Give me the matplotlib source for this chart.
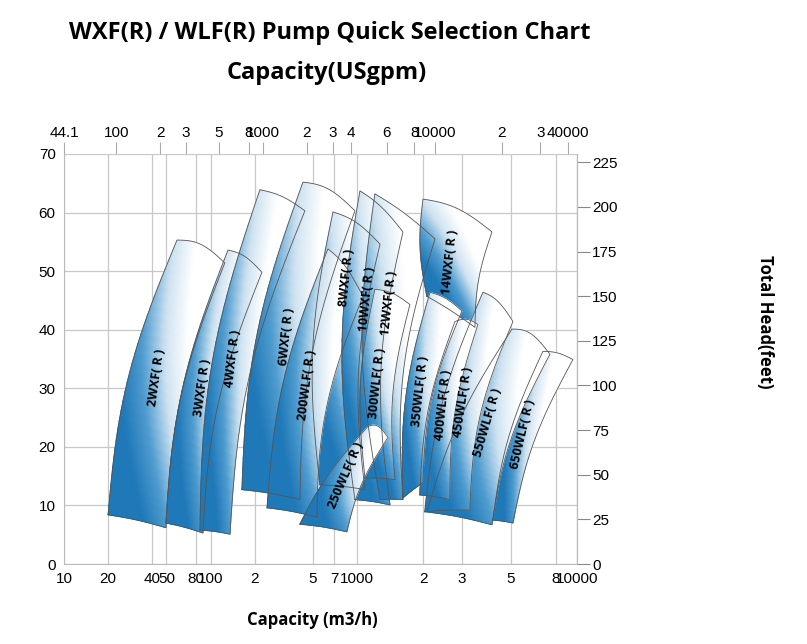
import numpy as np
import matplotlib
matplotlib.use("Agg")
import matplotlib.pyplot as plt
from matplotlib.colors import LinearSegmentedColormap
from matplotlib.ticker import FixedLocator, FixedFormatter, NullLocator

# pump regions: corners (x m3/h, y m) in order BL, BR, TR, TL
pumps = ["2WXF(R)", "3WXF(R)", "4WXF(R)", "6WXF(R)", "8WXF(R)", "200WLF(R)",
         "10WXF(R)", "12WXF(R)", "300WLF(R)", "14WXF(R)", "650WLF(R)", "550WLF(R)",
         "450WLF(R)", "400WLF(R)", "350WLF(R)", "250WLF(R)"]
corner_x = [
    [20, 49.6, 125, 59],
    [49.6, 88.7, 224, 131.5],
    [84.7, 135.6, 440, 217],
    [163.7, 407, 966, 427],
    [557, 1085, 1271, 684],
    [243, 532, 1063, 632],
    [966, 1410, 1616, 1030],
    [1271, 1616, 2260, 1204],
    [1085, 1486, 1738, 1204],
    [2077, 3436, 4105, 1993],
    [4143, 5113, 9580, 6994],
    [2077, 4105, 7530, 5058],
    [2032, 3258, 5113, 3733],
    [1928, 2642, 3542, 2785],
    [1616, 1993, 2997, 2145],
    [407, 851, 1380, 1120],
]
corner_y = [
    [8.4, 6.2, 51.4, 55.3],
    [7.0, 5.3, 49.8, 53.6],
    [5.8, 5.1, 60.3, 63.9],
    [12.7, 11.0, 60.3, 65.2],
    [13.5, 12.7, 54.6, 60.1],
    [9.6, 8.0, 45.7, 53.8],
    [11.0, 10.1, 56.7, 63.7],
    [11.0, 11.0, 55.5, 63.2],
    [14.7, 14.4, 44.3, 46.9],
    [45.7, 40.4, 56.7, 62.3],
    [7.5, 7.0, 34.9, 36.3],
    [8.9, 6.7, 35.8, 40.1],
    [8.9, 9.2, 41.4, 46.4],
    [11.8, 11.0, 40.9, 41.4],
    [11.3, 13.9, 43.2, 46.4],
    [6.8, 5.5, 21.6, 23.5],
]
label_v = {"8WXF(R)": 0.82, "10WXF(R)": 0.72, "12WXF(R)": 0.72, "14WXF(R)": 0.5}

bottom_ticks = [10, 20, 40, 50, 80, 100, 200, 500, 700, 1000, 2000, 3000, 5000, 8000, 10000]
bottom_labels = ["10", "20", "40", "50", "80", "100", "2", "5", "7", "1000", "2", "3", "5", "8", "10000"]
top_ticks = [44.1, 100, 200, 300, 500, 800, 1000, 2000, 3000, 4000, 6000, 8000, 10000, 20000, 30000, 40000]
top_labels = ["44.1", "100", "2", "3", "5", "8", "1000", "2", "3", "4", "6", "8", "10000", "2", "3", "40000"]
ft_ticks = [0, 25, 50, 75, 100, 125, 150, 175, 200, 225]

GPM = 4.403
FT = 3.2808


# the chart stretches the last decade
def fwd(x):
    l = np.log10(np.clip(x, 1e-9, None))
    return np.where(l <= 3, l, 3 + (l - 3) * 1.5)


def inv(v):
    return np.where(v <= 3, 10 ** v, 10 ** (3 + (v - 3) / 1.5))


def fwd_g(g):
    return fwd(np.asarray(g) / GPM)


def inv_g(v):
    return inv(v) * GPM


plt.rcParams['font.family'] = ['Liberation Sans', 'DejaVu Sans']
fig = plt.figure(figsize=(8.07, 6.44), dpi=100)
ax = fig.add_axes([64 / 807, 1 - 564 / 644, (577 - 64) / 807, (564 - 154) / 644])
ax.set_xscale('function', functions=(fwd, inv))
ax.set_xlim(10, 10000)
ax.set_ylim(0, 70)

ax.xaxis.set_major_locator(FixedLocator(bottom_ticks))
ax.xaxis.set_major_formatter(FixedFormatter(bottom_labels))
ax.xaxis.set_minor_locator(NullLocator())
ax.set_yticks(range(0, 71, 10))
ax.tick_params(axis='x', length=0, labelsize=11, pad=6)
ax.tick_params(axis='y', length=0, labelsize=11, pad=6)
ax.grid(True, color='#c8c8c8', linewidth=0.9)
for s in ax.spines.values():
    s.set_color('#bbbbbb')
ax.spines['top'].set_visible(False)
ax.set_axisbelow(True)

top = ax.twiny()
top.set_xscale('function', functions=(fwd_g, inv_g))
top.set_xlim(10 * GPM, 10000 * GPM)
top.xaxis.set_major_locator(FixedLocator(top_ticks))
top.xaxis.set_major_formatter(FixedFormatter(top_labels))
top.xaxis.set_minor_locator(NullLocator())
top.tick_params(length=9, color='#aaaaaa', labelsize=11, pad=1)
for s in top.spines.values():
    s.set_visible(False)

right = ax.secondary_yaxis('right', functions=(lambda m: m * FT, lambda f: f / FT))
right.set_yticks(ft_ticks)
right.tick_params(length=9, color='#888888', labelsize=11, pad=2)
right.spines['right'].set_color('#bbbbbb')

cmap = LinearSegmentedColormap.from_list('pump', ['#ffffff', '#cfe3f1', '#4f9ccf', '#1f78b8'])
fig.canvas.draw()
to_px = ax.transData
to_data = ax.transData.inverted()

n = 30
uu, vv = np.meshgrid(np.linspace(0, 1, n), np.linspace(0, 1, n))
for name, cx, cy in zip(pumps, corner_x, corner_y):
    p = to_px.transform(np.column_stack([cx, cy]))
    bl, br, tr, tl = p
    pts = ((1 - uu)[..., None] * (1 - vv)[..., None] * bl + uu[..., None] * (1 - vv)[..., None] * br
           + uu[..., None] * vv[..., None] * tr + (1 - uu)[..., None] * vv[..., None] * tl)
    h = np.hypot(*(tl - bl))
    w = np.hypot(*(br - bl))
    pts[..., 0] -= 0.05 * h * np.sin(np.pi * vv)
    pts[..., 1] += (0.02 + 0.1 * vv) * w * np.sin(np.pi * uu)
    d = to_data.transform(pts.reshape(-1, 2)).reshape(n, n, 2)
    c = np.clip(1.45 - 0.75 * uu - 1.15 * vv, 0, 1)
    ax.pcolormesh(d[..., 0], d[..., 1], c, shading='gouraud', cmap=cmap, vmin=0, vmax=1, zorder=3)
    edge = np.concatenate([d[0, :], d[:, -1], d[-1, ::-1], d[::-1, 0]])
    ax.plot(edge[:, 0], edge[:, 1], color='#555555', lw=0.6, zorder=4)
    lv = label_v.get(name, 0.55)
    i = int(lv * (n - 1))
    j = n // 2
    side = pts[-1, n // 2] - pts[0, n // 2]
    ang = min(np.degrees(np.arctan2(side[1], side[0])) + 5, 84)
    ax.text(d[i, j, 0], d[i, j, 1], name.replace("(R)", "( R )"), rotation=ang,
            ha='center', va='center', fontsize=9, fontweight='bold',
            family=['Open Sans', 'DejaVu Sans'], zorder=5, rotation_mode='anchor')

fig.text(330 / 807, 1 - 33 / 644, "WXF(R) / WLF(R) Pump Quick Selection Chart", ha='center', va='center',
         fontsize=17, fontweight='bold', family=['Open Sans', 'DejaVu Sans'])
fig.text(327 / 807, 1 - 73 / 644, "Capacity(USgpm)", ha='center', va='center',
         fontsize=17, fontweight='bold', family=['Open Sans', 'DejaVu Sans'])
fig.text(312 / 807, 1 - 620 / 644, "Capacity (m3/h)", ha='center', va='center',
         fontsize=12, fontweight='bold', family=['Open Sans', 'DejaVu Sans'])
fig.text(765 / 807, 1 - 322 / 644, "Total Head(feet)", ha='center', va='center', rotation=-90,
         fontsize=12, fontweight='bold', family=['Open Sans', 'DejaVu Sans'])

fig.savefig("out.png", dpi=100)
